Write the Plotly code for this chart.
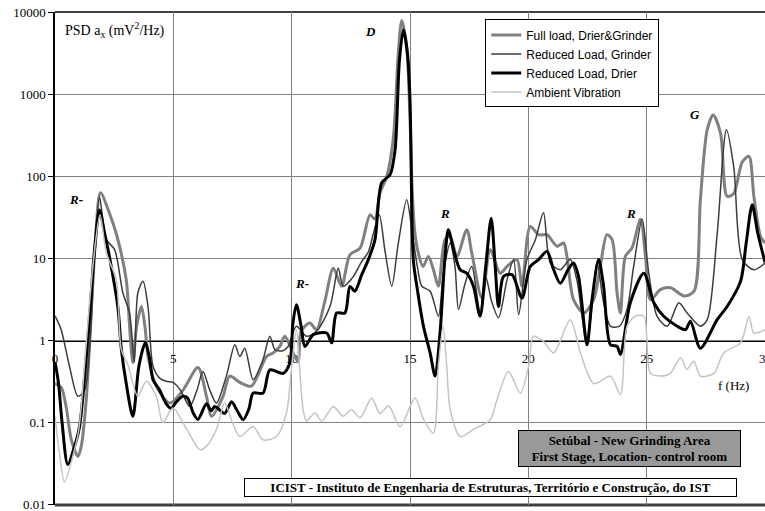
import math
import plotly.graph_objects as go

# ---- PSD spectra (frequency in Hz, PSD in mV^2/Hz) ----
full_f = [0.0, 0.26, 0.47, 0.69, 0.97, 1.11, 1.32, 1.5, 1.7, 1.92, 2.3, 2.59, 3.01, 3.15, 3.29, 3.45,
          3.65, 3.8, 3.93, 4.28, 4.85, 5.41, 6.04, 6.4, 6.61, 7.1, 7.38, 7.81, 8.3, 8.94, 9.22, 9.5,
          9.71, 10.0, 10.27, 10.4, 10.77, 11.05, 11.4, 11.76, 12.11, 12.46, 12.89, 13.31, 13.52, 13.73,
          14.02, 14.3, 14.5, 14.65, 14.85, 15.0, 15.1, 15.21, 15.35, 15.55, 15.78, 15.99, 16.2, 16.48,
          16.7, 16.98, 17.4, 17.61, 18.04, 18.39, 18.81, 19.1, 19.52, 19.73, 20.08, 20.43, 20.79, 21.21,
          21.49, 21.63, 21.91, 22.34, 22.76, 23.04, 23.32, 23.54, 23.75, 23.89, 24.1, 24.38, 24.74, 24.95,
          25.16, 25.59, 26.01, 26.58, 27.0, 27.27, 27.56, 27.81, 28.12, 28.4, 28.68, 29.04, 29.32, 29.53,
          29.81, 30.0]
full_v = [0.3, 0.27, 0.158, 0.062, 0.039, 0.052, 0.19, 1.5, 15, 63, 35.6, 20, 5.5, 1.5, 0.54, 1.5,
          2.6, 1.5, 0.64, 0.28, 0.174, 0.25, 0.47, 0.21, 0.12, 0.21, 0.37, 0.31, 0.28, 0.64, 0.71, 0.85,
          1.13, 0.78, 0.55, 1.3, 1.64, 1.36, 3.0, 7.6, 4.6, 11.1, 13.4, 34, 30, 63,
          100, 300, 3000, 7900, 4000, 500, 60, 20, 11.7, 8.0, 10.6, 7.3, 4.6, 17,
          18.6, 10.6, 22.4, 11.7, 3.3, 12.8, 6.6, 8.0, 9.7, 4.6, 24.6, 19.5, 19.5, 14.1,
          15.4, 10.6, 3.15, 2.17, 3.15, 8.0, 19.5, 17, 3.8, 2.17, 10.6, 13.4, 30, 10.6,
          3.15, 4.2, 4.4, 3.5, 4.0, 52, 370, 560, 335, 57, 62, 150, 175, 57,
          18.6, 15.4]

grinder_f = [0.0, 0.26, 0.61, 0.97, 1.25, 1.46, 1.65, 1.88, 2.17, 2.52, 2.87, 3.15, 3.35, 3.5, 3.72,
             3.93, 4.14, 4.42, 4.7, 4.98, 5.3, 5.69, 6.0, 6.25, 6.54, 6.82, 7.24, 7.6, 7.81, 8.02, 8.37,
             8.79, 9.08, 9.29, 9.6, 9.85, 10.2, 10.63, 11.05, 11.62, 11.97, 12.18, 12.6, 12.96, 13.24,
             13.45, 13.7, 13.95, 14.23, 14.5, 14.86, 15.1, 15.31, 15.5, 15.85, 16.2, 16.41, 16.7, 16.9,
             17.05, 17.33, 17.61, 17.96, 18.2, 18.45, 18.74, 19.1, 19.38, 19.59, 19.94, 20.3, 20.64,
             20.93, 21.35, 21.77, 22.05, 22.48, 22.9, 23.18, 23.47, 23.85, 24.17, 24.45, 24.81, 25.09,
             25.44, 25.87, 26.36, 26.71, 27.27, 27.56, 27.98, 28.37, 28.68, 29.04, 29.53, 30.0]
grinder_v = [2.0, 1.36, 0.49, 0.21, 0.25, 0.78, 8, 56, 17, 12.8, 3.8, 2.17, 0.55, 3.8, 5.3,
             2.6, 0.49, 0.35, 0.32, 0.31, 0.25, 0.158, 0.25, 0.42, 0.25, 0.174, 0.37, 0.89, 0.64, 0.81, 0.335,
             0.59, 1.13, 0.78, 0.75, 0.85, 1.5, 1.13, 1.3, 2.6, 7.6, 4.6, 6.0, 9.2, 12,
             20, 34, 12, 4.6, 15, 52, 20, 8.0, 4.6, 4.0, 1.98, 6.6, 15.4, 8.0,
             2.4, 5.0, 8.0, 2.2, 6.0, 3.0, 1.9, 5.5, 9.7, 2.07, 9.7, 17, 36,
             8.8, 7.3, 9.7, 5.5, 0.89, 8.8, 2.9, 1.5, 1.5, 2.4, 8.0, 30, 6.6,
             1.98, 1.5, 2.9, 2.17, 1.5, 1.8, 20, 370, 130, 9.7, 7.3, 8.8]

drier_f = [0.0, 0.15, 0.3, 0.54, 0.83, 1.04, 1.46, 1.67, 1.88, 2.1, 2.3, 2.66, 2.8, 3.01, 3.29, 3.55,
           3.82, 4.0, 4.14, 4.42, 4.7, 4.9, 5.13, 5.4, 5.6, 5.85, 6.04, 6.4, 6.6, 6.75, 7.0, 7.17, 7.46,
           7.7, 7.95, 8.2, 8.37, 8.79, 9.08, 9.64, 9.92, 10.05, 10.2, 10.4, 10.56, 10.91, 11.48, 11.69,
           11.9, 12.25, 12.46, 12.67, 12.96, 13.24, 13.52, 13.8, 14.16, 14.37, 14.55, 14.72, 14.9, 15.0,
           15.14, 15.29, 15.57, 15.85, 16.06, 16.27, 16.48, 16.62, 16.84, 17.12, 17.4, 17.68, 17.96,
           18.2, 18.43, 18.6, 18.74, 18.95, 19.31, 19.73, 20.08, 20.43, 20.79, 21.07, 21.35, 21.7, 21.91,
           22.12, 22.48, 22.69, 22.97, 23.18, 23.47, 23.75, 23.89, 24.31, 24.88, 25.3, 25.72, 26.29,
           26.64, 26.85, 27.27, 27.98, 28.4, 28.97, 29.2, 29.46, 29.7, 30.0]
drier_v = [0.55, 0.3, 0.1, 0.031, 0.052, 0.091, 1.98, 12.8, 39, 20, 10.5, 2.5, 0.8, 0.3, 0.12, 0.5,
           0.95, 0.6, 0.335, 0.25, 0.17, 0.15, 0.18, 0.21, 0.2, 0.13, 0.11, 0.17, 0.14, 0.158, 0.14, 0.13, 0.18,
           0.14, 0.109, 0.15, 0.23, 0.23, 0.44, 0.40, 0.535, 1.6, 2.74, 1.5, 0.85, 1.18, 1.24, 0.94,
           2.17, 2.17, 4.57, 4.0, 6.35, 9.7, 16.9, 83, 105, 210, 2500, 6100, 3000, 860,
           9.6, 4.6, 1.49, 0.71, 0.37, 1.25, 10.6, 22.4, 12.8, 7.3, 6.6, 4.6, 1.98,
           8, 31, 8, 2.6, 6.05, 6.35, 3.3, 8.0, 9.7, 12.2, 7.3, 5.0, 7.5, 8.8,
           6.05, 0.89, 3.15, 9.7, 4.6, 0.89, 0.85, 0.68, 2.9, 6.6, 2.9, 1.98, 1.5,
           1.36, 1.72, 0.81, 1.8, 2.6, 5.3, 15, 45, 20, 9.0]

ambient_f = [0.0, 0.2, 0.4, 0.75, 1.0, 1.3, 1.6, 1.9, 2.17, 2.59, 2.8, 3.08, 3.5, 3.86, 4.28, 4.56,
             4.98, 5.55, 6.12, 6.4, 6.82, 7.17, 7.5, 7.81, 8.37, 8.79, 9.36, 9.78, 10.0, 10.2, 10.35,
             10.49, 10.63, 10.98, 11.27, 11.76, 12.18, 12.53, 12.89, 13.38, 13.73, 14.1, 14.58, 15.21,
             15.57, 15.99, 16.2, 16.4, 16.55, 16.7, 17.12, 17.68, 18.39, 18.67, 19.16, 19.66, 20.01,
             20.22, 20.64, 21.07, 21.77, 22.2, 22.76, 23.47, 23.89, 24.17, 24.52, 24.88, 25.16, 25.59,
             26.0, 26.43, 26.7, 26.99, 27.27, 27.84, 28.26, 28.97, 29.32, 29.53, 30.0]
ambient_v = [0.12, 0.04, 0.019, 0.039, 0.08, 0.8, 8, 34, 11.7, 5.5, 0.78, 0.51, 0.21, 0.32, 0.21, 0.1,
             0.151, 0.085, 0.047, 0.052, 0.083, 0.174, 0.1, 0.068, 0.09, 0.062, 0.068, 0.132, 0.49, 1.36, 0.4,
             0.14, 0.105, 0.132, 0.105, 0.158, 0.12, 0.145, 0.115, 0.2, 0.13, 0.16, 0.09, 0.2,
             0.11, 0.075, 0.5, 1.5, 0.5, 0.145, 0.068, 0.083, 0.109, 0.19, 0.42, 0.23, 0.49,
             1.13, 0.98, 0.71, 1.8, 0.71, 0.3, 0.37, 0.22, 1.5, 1.98, 1.98, 0.4, 0.37,
             0.4, 0.62, 0.45, 0.56, 0.37, 0.4, 0.71, 0.94, 1.98, 1.24, 1.36]

series_names = ["Full load, Drier&Grinder", "Reduced Load, Grinder",
                "Reduced Load, Drier", "Ambient Vibration"]
series_data = [(full_f, full_v), (grinder_f, grinder_v), (drier_f, drier_v), (ambient_f, ambient_v)]
series_colors = ["#808080", "#3c3c3c", "#000000", "#c4c4c4"]
series_widths = [3, 1.5, 3, 1.5]

x_ticks = [0, 5, 10, 15, 20, 25]
x_last_tick = 30
y_ticks = [0.01, 0.1, 1, 10, 100, 1000, 10000]
y_tick_text = ["0.01", "0.1", "1", "10", "100", "1000", "10000"]

# Mode labels placed next to the peaks
peak_labels = [("R-", 0.9, 52), ("D", 13.31, 5740), ("R-", 10.43, 4.9),
               ("R", 16.48, 35), ("R", 24.35, 35), ("G", 27.06, 560)]

SERIF = "Liberation Serif"
SANS = "Liberation Sans"

fig = go.Figure()
for name, (fx, fv), col, w in zip(series_names, series_data, series_colors, series_widths):
    fig.add_trace(go.Scatter(
        x=fx, y=fv, mode="lines", name=name,
        line=dict(color=col, width=w, shape="spline", smoothing=0.8),
    ))

fig.update_layout(
    width=765, height=511,
    margin=dict(l=55, r=0, t=12, b=6, autoexpand=False),
    paper_bgcolor="white", plot_bgcolor="white",
    showlegend=True,
    legend=dict(
        x=0.606, y=0.985, xanchor="left", yanchor="top",
        bgcolor="white", bordercolor="black", borderwidth=1,
        font=dict(family=SANS, size=12, color="black"),
        itemwidth=30, tracegroupgap=0,
    ),
    xaxis=dict(
        range=[0, 30], anchor="free", position=1/3, automargin=False,
        tickvals=x_ticks, ticktext=[str(t) for t in x_ticks],
        showgrid=True, gridcolor="#808080", gridwidth=1,
        showline=True, linecolor="black", linewidth=1,
        ticks="", ticklabelstandoff=6,
        tickfont=dict(family=SERIF, size=13, color="black"),
        zeroline=False, layer="below traces",
    ),
    yaxis=dict(
        type="log", range=[-2.0008, 4.0008], automargin=False,
        tickvals=y_ticks, ticktext=y_tick_text,
        showgrid=True, gridcolor="#808080", gridwidth=1,
        showline=True, linecolor="black", linewidth=1.5,
        ticks="outside", ticklen=5, tickcolor="black", ticklabeloverflow="allow",
        tickfont=dict(family=SERIF, size=13, color="black"),
        zeroline=False, layer="below traces",
    ),
    shapes=[
        dict(type="line", xref="paper", yref="paper", x0=0, x1=1, y0=1, y1=1,
             line=dict(color="black", width=1.5), layer="between"),
        dict(type="line", xref="paper", yref="paper", x0=0, x1=1, y0=0, y1=0,
             line=dict(color="#404040", width=3), layer="between"),
    ],
)

annotations = [
    dict(text="PSD a<sub>x</sub> (mV<sup>2</sup>/Hz)", xref="paper", yref="paper",
         x=0.0113, y=0.9635, xanchor="left", yanchor="middle", showarrow=False,
         font=dict(family=SERIF, size=14, color="black")),
    # last frequency tick sits on the right edge of the plot
    dict(text=str(x_last_tick), xref="x", yref="paper", x=x_last_tick, y=1/3, yshift=-18,
         xanchor="center", yanchor="middle", showarrow=False,
         font=dict(family=SERIF, size=13, color="black")),
    dict(text="f (Hz)", xref="paper", yref="paper", x=0.955, y=0.2434,
         xanchor="center", yanchor="middle", showarrow=False,
         font=dict(family=SERIF, size=13, color="black")),
    dict(text="<b>Setúbal - New Grinding Area</b><br><b>First Stage, Location- control room</b>",
         xref="paper", yref="paper", x=0.8094, y=0.115, xanchor="center", yanchor="middle",
         showarrow=False, width=219, height=33, bgcolor="#999999", bordercolor="black",
         borderwidth=1, borderpad=1, align="center",
         font=dict(family=SERIF, size=13, color="black")),
    dict(text="<b>ICIST - Instituto de Engenharia de Estruturas, Território e Construção, do IST</b>",
         xref="paper", yref="paper", x=0.6127, y=0.0345, xanchor="center", yanchor="middle",
         showarrow=False, width=489, height=15, bgcolor="white", bordercolor="black",
         borderwidth=1, borderpad=1, align="center",
         font=dict(family=SERIF, size=13, color="black")),
]
for txt, lx, ly in peak_labels:
    annotations.append(dict(text=f"<b><i>{txt}</i></b>", x=lx, y=math.log10(ly),
                            xref="x", yref="y", showarrow=False,
                            font=dict(family=SERIF, size=13, color="black")))
fig.update_layout(annotations=annotations)

fig.write_html("out.html")
